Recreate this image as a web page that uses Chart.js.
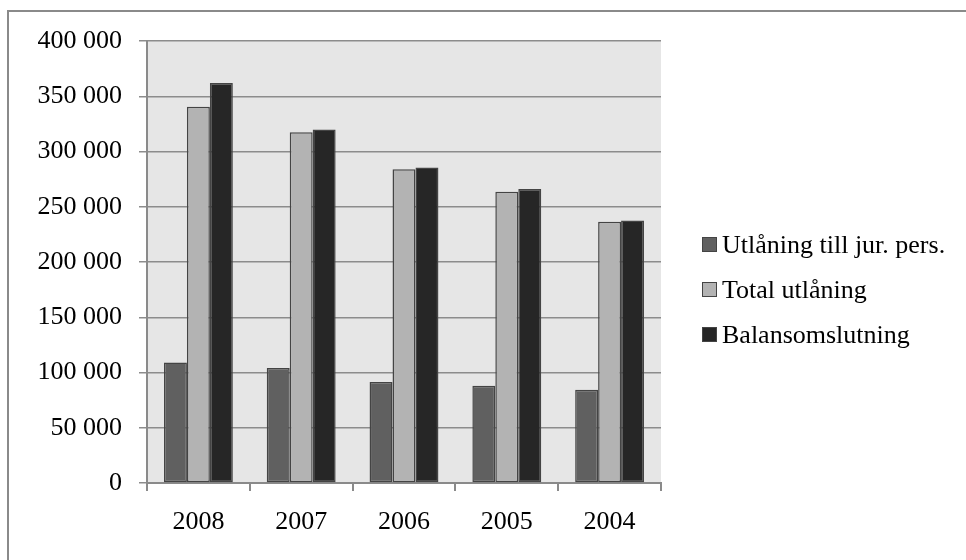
<!DOCTYPE html>
<html>
<head>
<meta charset="utf-8">
<script src="https://cdn.jsdelivr.net/npm/chart.js@4.4.1/dist/chart.umd.min.js"></script>
<style>
  html, body { margin: 0; padding: 0; background: #fff; overflow: hidden; }
  .frame {
    position: absolute; left: 7px; top: 10px; width: 2000px; height: 2000px;
    border-left: 2px solid #8a8a8a; border-top: 2px solid #8a8a8a;
  }
  #chart { position: absolute; left: 0; top: 0; }
  #legend {
    position: absolute; left: 702px; top: 222px;
    font-family: "Liberation Serif", "Times New Roman", serif; font-size: 26px; color: #000;
  }
  #legend .row { height: 45px; display: flex; align-items: center; line-height: 26px; white-space: nowrap; }
  #legend .box { width: 13px; height: 13px; border: 1px solid #444; margin-right: 5px; }
</style>
</head>
<body>
<div class="frame"></div>
<canvas id="chart" width="966" height="560"></canvas>
<div id="legend"></div>
<script>
const years = ['2008', '2007', '2006', '2005', '2004'];
const jurPers = [109000, 104000, 91500, 88000, 84500];
const totalUtlaning = [340500, 317500, 284000, 263500, 236500];
const balans = [362000, 320000, 285500, 266000, 237500];
const seriesNames = ['Utlåning till jur. pers.', 'Total utlåning', 'Balansomslutning'];
const seriesColors = ['#606060', '#b3b3b3', '#262626'];
const yTicks = [0, 50000, 100000, 150000, 200000, 250000, 300000, 350000, 400000];

const serif = '"Liberation Serif", "Times New Roman", serif';
const fmt = v => String(v).replace(/\B(?=(\d{3})+(?!\d))/g, ' ');

const plotBg = {
  id: 'plotBg',
  beforeDraw(chart) {
    const { ctx, chartArea: a } = chart;
    ctx.save();
    ctx.fillStyle = '#e6e6e6';
    ctx.fillRect(a.left, a.top, a.right - a.left, a.bottom - a.top);
    ctx.restore();
  }
};

const makeSet = (i, data) => ({
  label: seriesNames[i],
  data: data,
  backgroundColor: seriesColors[i],
  borderColor: '#444444',
  borderWidth: 1.5,
  borderSkipped: false,
  barPercentage: 1,
  categoryPercentage: 0.67
});

const chart = new Chart(document.getElementById('chart'), {
  type: 'bar',
  data: {
    labels: years,
    datasets: [makeSet(0, jurPers), makeSet(1, totalUtlaning), makeSet(2, balans)]
  },
  options: {
    responsive: false,
    animation: false,
    layout: { padding: { left: 0, top: 41, right: 305, bottom: 0 } },
    plugins: { legend: { display: false }, tooltip: { enabled: false } },
    scales: {
      x: {
        grid: { drawOnChartArea: false, drawTicks: true, tickLength: 8, color: '#8a8a8a', lineWidth: 2 },
        border: { color: '#8a8a8a', width: 2 },
        ticks: { color: '#000', font: { family: serif, size: 26 }, padding: 16, maxRotation: 0 },
        afterFit(s) { s.height = 77; }
      },
      y: {
        min: 0,
        max: 400000,
        afterBuildTicks(s) { s.ticks = yTicks.map(v => ({ value: v })); },
        grid: { color: '#8c8c8c', lineWidth: 1.5, tickLength: 8 },
        border: { color: '#8a8a8a', width: 2 },
        ticks: { color: '#000', font: { family: serif, size: 26 }, padding: 17, callback: v => fmt(v) },
        afterFit(s) { s.width = 147; }
      }
    }
  },
  plugins: [plotBg]
});

const legend = document.getElementById('legend');
chart.data.datasets.forEach(ds => {
  const row = document.createElement('div');
  row.className = 'row';
  const box = document.createElement('span');
  box.className = 'box';
  box.style.background = ds.backgroundColor;
  const txt = document.createElement('span');
  txt.textContent = ds.label;
  row.appendChild(box);
  row.appendChild(txt);
  legend.appendChild(row);
});
</script>
</body>
</html>
